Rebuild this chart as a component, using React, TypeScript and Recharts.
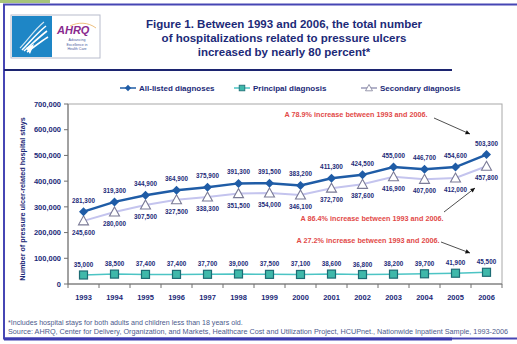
import { LineChart, Line, XAxis, YAxis, LabelList } from 'recharts'

const years = ['1993', '1994', '1995', '1996', '1997', '1998', '1999', '2000', '2001', '2002', '2003', '2004', '2005', '2006']
const allListed = [281300, 319300, 344900, 364900, 375900, 391300, 391500, 383200, 411300, 424500, 455000, 446700, 454600, 503300]
const principal = [35000, 38500, 37400, 37400, 37700, 39000, 37500, 37100, 38600, 36800, 38200, 39700, 41900, 45500]
const secondary = [245600, 280000, 307500, 327500, 338300, 351500, 354000, 346100, 372700, 387600, 416900, 407000, 412000, 457800]
const yTicks = [0, 100000, 200000, 300000, 400000, 500000, 600000, 700000]

const data = years.map((year, i) => ({
  year,
  allListed: allListed[i],
  principal: principal[i],
  secondary: secondary[i],
}))

const NAVY = '#1c2a78'
const BLUE = '#1f5ca6'
const TEAL = '#4cc4c4'
const LAVENDER = '#c4c4ee'
const RED = '#e24a48'
const ARIAL = "'Liberation Sans', Arial, sans-serif"
const fmt = (v: number) => v.toLocaleString('en-US')

const Diamond = ({ cx, cy }: any) => (
  <path d={`M${cx},${cy - 4.5}L${cx + 4.5},${cy}L${cx},${cy + 4.5}L${cx - 4.5},${cy}Z`} fill={BLUE} />
)
const Square = ({ cx, cy }: any) => (
  <rect x={cx - 4} y={cy - 4} width={8} height={8} fill="#3fb8aa" stroke="#1d6c74" strokeWidth={1.2} />
)
const Triangle = ({ cx, cy }: any) => (
  <path d={`M${cx},${cy - 5}L${cx + 5},${cy + 4}L${cx - 5},${cy + 4}Z`} fill="#fff" stroke="#7a7a96" strokeWidth={1.1} />
)

// squeezed bold labels, like the condensed font of the original
const makeLabel = (dy: number) => (props: any) => {
  const { x, y, value } = props
  const s = fmt(value)
  const w = s.replace(',', '').length * 3.5 + 1.8
  return (
    <text x={x} y={y + dy} textAnchor="middle" fontFamily={ARIAL} fontWeight="bold" fontSize={8} fill={NAVY}
      textLength={w} lengthAdjust="spacingAndGlyphs">
      {s}
    </text>
  )
}

const YearTick = ({ x, y, payload, index }: any) => (
  <g>
    <line x1={x - 15.5} x2={x - 15.5} y1={y} y2={y + 4} stroke="#707070" />
    {index === years.length - 1 && <line x1={x + 15.5} x2={x + 15.5} y1={y} y2={y + 4} stroke="#707070" />}
    <text x={x} y={y + 16} textAnchor="middle" fontFamily={ARIAL} fontWeight="bold" fontSize={7.5} fill={NAVY}>
      {payload.value}
    </text>
  </g>
)

const legendItems = [
  { name: 'All-listed diagnoses', color: BLUE, Mark: Diamond, width: 100 },
  { name: 'Principal diagnosis', color: TEAL, Mark: Square, width: 113 },
  { name: 'Secondary diagnosis', color: '#9a9ab8', Mark: Triangle, width: 110 },
]

const LegendContent = () => (
  <svg width={360} height={14}>
    {(() => {
      let x = 0
      return legendItems.map(({ name, color, Mark, width }) => {
        const x0 = x
        x += width + 14
        return (
          <g key={name}>
            <line x1={x0} x2={x0 + 16} y1={7} y2={7} stroke={color} strokeWidth={1.5} />
            <g transform={`translate(${x0 + 8},7) scale(0.7)`}>
              <Mark cx={0} cy={0} />
            </g>
            <text x={x0 + 19} y={10} fontFamily={ARIAL} fontWeight="bold" fontSize={8} fill={NAVY}>{name}</text>
          </g>
        )
      })
    })()}
  </svg>
)

const Logo = () => (
  <g>
    <rect x={11} y={15} width={89} height={43} fill="#fff" stroke="#b8bccc" />
    <rect x={12} y={16} width={40} height={41} fill="#1e86c6" />
    <path d="M20,48 C28,40 34,30 44,22" stroke="#fff" strokeWidth={1.2} fill="none" opacity={0.8} />
    <path d="M22,50 C30,42 36,34 46,26 M24,51 C32,44 38,38 47,31 M27,52 C34,47 40,42 48,37" stroke="#fff" strokeWidth={1.6} fill="none" />
    <path d="M26,48 L34,44 L30,54 Z" fill="#fff" />
    <text x={57} y={34} fontFamily={ARIAL} fontStyle="italic" fontWeight="bold" fontSize={11} fill="#8a2a8e">AHRQ</text>
    <path d="M70,26 C78,22 88,22 96,28" stroke="#e8b060" strokeWidth={0.8} fill="none" />
    <text x={77} y={41} textAnchor="middle" fontFamily={ARIAL} fontSize={3.6} fill="#4a5aa0">Advancing</text>
    <text x={77} y={45.5} textAnchor="middle" fontFamily={ARIAL} fontSize={3.6} fill="#4a5aa0">Excellence in</text>
    <text x={77} y={50} textAnchor="middle" fontFamily={ARIAL} fontSize={3.6} fill="#4a5aa0">Health Care</text>
  </g>
)

const Arrow = ({ x1, y1, x2, y2 }: { x1: number; y1: number; x2: number; y2: number }) => {
  const a = Math.atan2(y2 - y1, x2 - x1)
  const h = 5
  const p1 = `${x2 - h * Math.cos(a - 0.45)},${y2 - h * Math.sin(a - 0.45)}`
  const p2 = `${x2 - h * Math.cos(a + 0.45)},${y2 - h * Math.sin(a + 0.45)}`
  return (
    <g>
      <line x1={x1} y1={y1} x2={x2} y2={y2} stroke="#222" strokeWidth={0.8} />
      <path d={`M${x2},${y2}L${p1}L${p2}Z`} fill="#111" />
    </g>
  )
}

const notes = [
  { text: 'A 78.9% increase between 1993 and 2006.', x: 356, y: 117, arrow: { x1: 434, y1: 118, x2: 470, y2: 134 } },
  { text: 'A 86.4% increase between 1993 and 2006.', x: 372, y: 221, arrow: { x1: 444, y1: 212, x2: 475, y2: 188 } },
  { text: 'A 27.2% increase between 1993 and 2006.', x: 368, y: 243, arrow: { x1: 441, y1: 242, x2: 470, y2: 253 } },
]

export default function App() {
  return (
    <div style={{ position: 'absolute', left: 0, top: 0, width: 517, height: 344, background: '#fff', overflow: 'hidden' }}>
      <svg width={517} height={344} style={{ position: 'absolute', left: 0, top: 0 }}>
        <rect x={0} y={0} width={50} height={3} fill="#a6c47a" />
        <rect x={4} y={4.5} width={530} height={334} fill="none" stroke="#4646b4" strokeWidth={2} />
        <line x1={4} x2={452} y1={339} y2={339} stroke="#3c3cb0" strokeWidth={3} />
        <line x1={4} x2={452} y1={70} y2={70} stroke="#1c2470" strokeWidth={2} />
        <Logo />
        <g fontFamily={ARIAL} fontWeight="bold" fontSize={11.5} fill={NAVY} textAnchor="middle">
          <text x={284} y={28}>Figure 1. Between 1993 and 2006, the total number</text>
          <text x={284} y={42}>of hospitalizations related to pressure ulcers</text>
          <text x={284} y={56}>increased by nearly 80 percent*</text>
        </g>
        <rect x={68} y={104} width={434} height={180} fill="none" stroke="#a8a8a8" />
        <text transform="translate(25,199) rotate(-90)" textAnchor="middle" fontFamily={ARIAL} fontWeight="bold" fontSize={7.2} fill={NAVY}>
          Number of pressure ulcer-related hospital stays
        </text>
        <g fontFamily={ARIAL} fontSize={7.1} fill="#4c5a8c">
          <text x={8} y={325}>*Includes hospital stays for both adults and children less than 18 years old.</text>
          <text x={8} y={334} textLength={500} lengthAdjust="spacingAndGlyphs">Source: AHRQ, Center for Delivery, Organization, and Markets, Healthcare Cost and Utilization Project, HCUPnet., Nationwide Inpatient Sample, 1993-2006</text>
        </g>
      </svg>
      <div style={{ position: 'absolute', left: 120, top: 81 }}>
        <LegendContent />
      </div>
      <div style={{ position: 'absolute', left: 0, top: 0 }}>
        <LineChart width={517} height={344} data={data} margin={{ top: 104, right: 15, bottom: 30, left: 8 }}>
          <XAxis
            dataKey="year"
            padding={{ left: 15.5, right: 15.5 }}
            height={30}
            tickSize={0}
            tickMargin={0}
            tickLine={false}
            axisLine={{ stroke: '#707070' }}
            interval={0}
            tick={<YearTick />}
          />
          <YAxis
            width={60}
            domain={[0, 700000]}
            ticks={yTicks}
            tickFormatter={fmt}
            tickSize={4}
            tickMargin={3}
            tickLine={{ stroke: '#707070' }}
            axisLine={{ stroke: '#707070' }}
            tick={{ fontFamily: ARIAL, fontWeight: 'bold', fontSize: 7.5, fill: NAVY }}
          />
          <Line dataKey="secondary" name="Secondary diagnosis" stroke={LAVENDER} strokeWidth={2} dot={<Triangle />} isAnimationActive={false}>
            <LabelList dataKey="secondary" content={makeLabel(14)} />
          </Line>
          <Line dataKey="principal" name="Principal diagnosis" stroke={TEAL} strokeWidth={1.5} dot={<Square />} isAnimationActive={false}>
            <LabelList dataKey="principal" content={makeLabel(-8)} />
          </Line>
          <Line dataKey="allListed" name="All-listed diagnoses" stroke={BLUE} strokeWidth={2.5} dot={<Diamond />} isAnimationActive={false}>
            <LabelList dataKey="allListed" content={makeLabel(-9)} />
          </Line>
        </LineChart>
      </div>
      <svg width={517} height={344} style={{ position: 'absolute', left: 0, top: 0, pointerEvents: 'none' }}>
        {notes.map((n) => (
          <g key={n.text}>
            <text x={n.x} y={n.y} textAnchor="middle" fontFamily={ARIAL} fontWeight="bold" fontSize={7.5} fill={RED}
              textLength={143} lengthAdjust="spacingAndGlyphs">{n.text}</text>
            <Arrow {...n.arrow} />
          </g>
        ))}
      </svg>
    </div>
  )
}
